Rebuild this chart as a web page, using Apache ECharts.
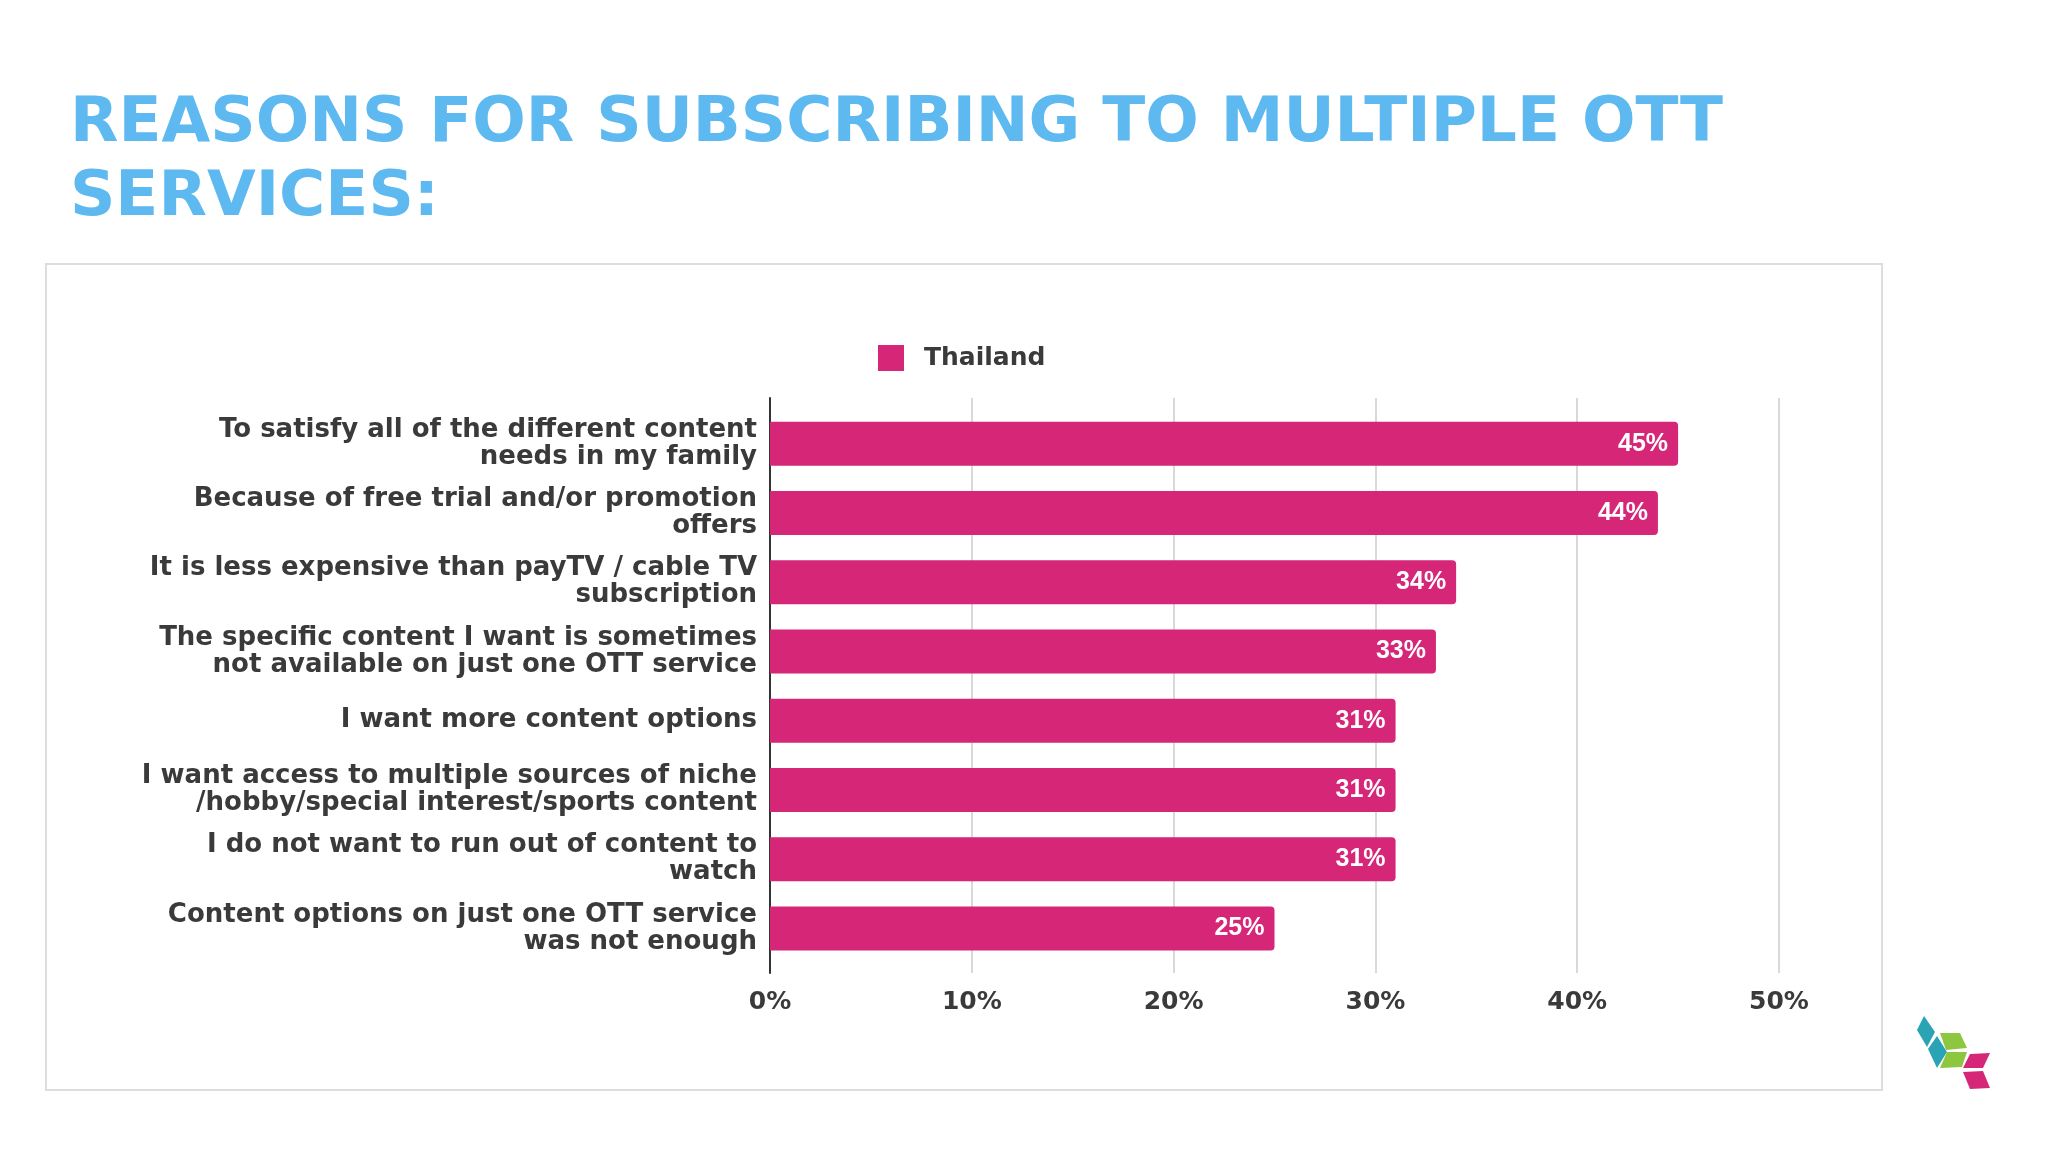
<!DOCTYPE html>
<html>
<head>
<meta charset="utf-8">
<script src="https://cdn.jsdelivr.net/npm/echarts@6/dist/echarts.min.js"></script>
<style>
html,body{margin:0;padding:0;background:#fff;}
#c{width:2048px;height:1152px;}
</style>
</head>
<body>
<div id="c"></div>
<script>
const titleText = 'REASONS FOR SUBSCRIBING TO MULTIPLE OTT\nSERVICES:';
const seriesName = 'Thailand';
const categories = [
  'To satisfy all of the different content\nneeds in my family',
  'Because of free trial and/or promotion\noffers',
  'It is less expensive than payTV / cable TV\nsubscription',
  'The specific content I want is sometimes\nnot available on just one OTT service',
  'I want more content options',
  'I want access to multiple sources of niche\n/hobby/special interest/sports content',
  'I do not want to run out of content to\nwatch',
  'Content options on just one OTT service\nwas not enough'
];
const values = [45, 44, 34, 33, 31, 31, 31, 25];
const axisMin = 0, axisMax = 50, axisStep = 10;

const FONT = '"DejaVu Sans", "Liberation Sans", Arial, sans-serif';
const FONT2 = '"Liberation Sans", Arial, sans-serif';
const TEXT = '#3a3a3a';
const BAR = '#D62678';

const chart = echarts.init(document.getElementById('c'), null, {renderer: 'canvas'});
chart.setOption({
  backgroundColor: '#ffffff',
  animation: false,
  title: {
    text: titleText,
    left: 70, top: 88, padding: 0,
    textStyle: {color: '#5DB9F0', fontFamily: FONT, fontWeight: 'bold', fontSize: 63, lineHeight: 74}
  },
  legend: {
    data: [seriesName],
    top: 340, left: 873,
    itemWidth: 26, itemHeight: 26, itemGap: 16,
    icon: 'rect',
    textStyle: {color: TEXT, fontFamily: FONT, fontWeight: 'bold', fontSize: 25, padding: [0, 0, 0, 15]}
  },
  graphic: [
    {type: 'rect', shape: {x: 46, y: 264, width: 1836, height: 826}, style: {fill: 'none', stroke: '#dddddd', lineWidth: 2}, z: -1},
    {type: 'polygon', shape: {points: [[1917,1030],[1924,1016],[1935,1032],[1927,1047]]}, style: {fill: '#2AA3B5'}},
    {type: 'polygon', shape: {points: [[1928,1049],[1937,1036],[1947,1052],[1937,1068]]}, style: {fill: '#2AA3B5'}},
    {type: 'polygon', shape: {points: [[1940,1033],[1960,1033],[1967,1048],[1946,1050]]}, style: {fill: '#8DC63F'}},
    {type: 'polygon', shape: {points: [[1947,1052],[1967,1052],[1962,1067],[1940,1068]]}, style: {fill: '#8DC63F'}},
    {type: 'polygon', shape: {points: [[1963,1068],[1970,1054],[1990,1053],[1983,1068]]}, style: {fill: '#D62678'}},
    {type: 'polygon', shape: {points: [[1963,1072],[1983,1071],[1990,1088],[1970,1089]]}, style: {fill: '#D62678'}}
  ],
  grid: [
    {left: 770, right: 269, top: 409, bottom: 189, containLabel: false},
    {left: 770, right: 269, top: 398, bottom: 179, containLabel: false}
  ],
  xAxis: [
    {gridIndex: 0, type: 'value', min: axisMin, max: axisMax, interval: axisStep, show: false},
    {gridIndex: 1, type: 'value', min: axisMin, max: axisMax, interval: axisStep,
     axisLine: {show: false}, axisTick: {show: false},
     splitLine: {show: true, lineStyle: {color: '#cccccc', width: 1.5}},
     axisLabel: {formatter: '{value}%', color: TEXT, fontFamily: FONT, fontWeight: 'bold', fontSize: 25, margin: 17}}
  ],
  yAxis: [
    {gridIndex: 0, type: 'category', data: categories, inverse: true,
     axisLine: {show: false}, axisTick: {show: false},
     axisLabel: {color: TEXT, fontFamily: FONT, fontWeight: 'bold', fontSize: 26, lineHeight: 27, margin: 13, align: 'right'}},
    {gridIndex: 1, type: 'value', min: 0, max: 1,
     axisLine: {show: true, lineStyle: {color: '#333333', width: 2}},
     axisTick: {show: false}, axisLabel: {show: false}, splitLine: {show: false}}
  ],
  series: [{
    name: seriesName,
    type: 'bar',
    xAxisIndex: 0, yAxisIndex: 0,
    data: values,
    barWidth: 44,
    itemStyle: {color: BAR, borderRadius: [0, 4, 4, 0]},
    label: {show: true, position: 'insideRight', distance: 10, formatter: '{c}%',
            color: '#ffffff', fontFamily: FONT2, fontWeight: 'bold', fontSize: 25},
    z: 3
  }]
});
</script>
</body>
</html>
